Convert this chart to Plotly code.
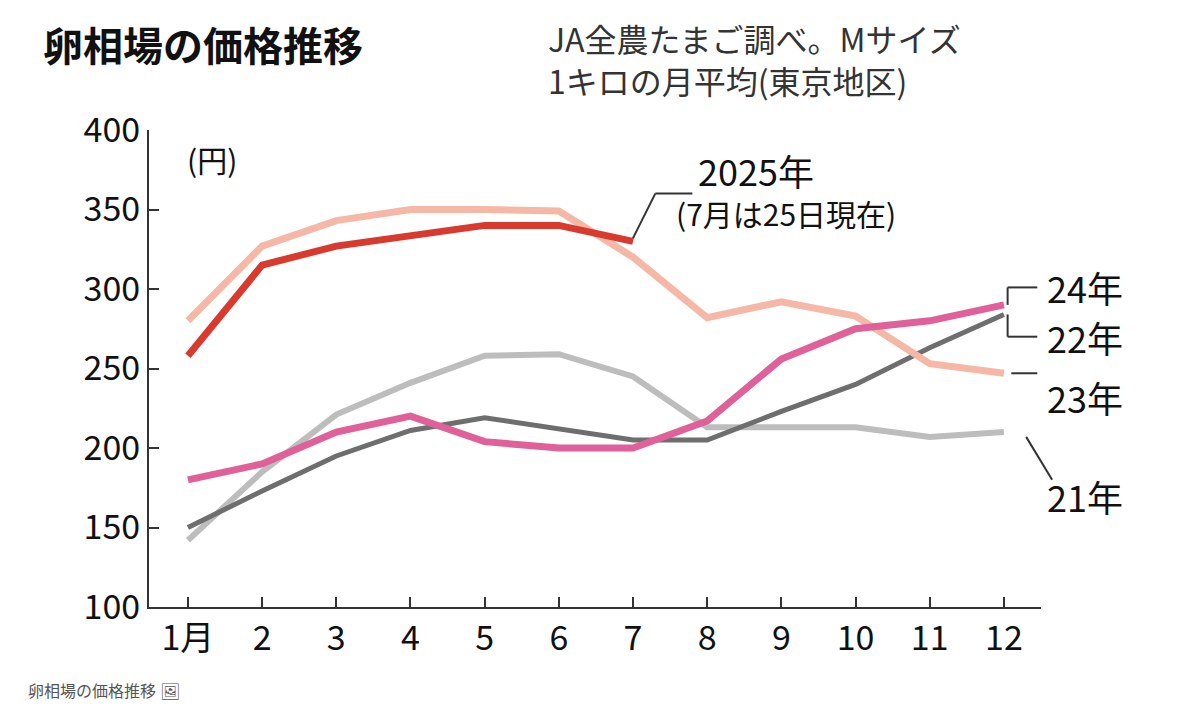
import plotly.graph_objects as go

months = list(range(1, 13))
month_labels = ["1月", "2", "3", "4", "5", "6", "7", "8", "9", "10", "11", "12"]

y2021 = [142, 185, 221, 241, 258, 259, 245, 213, 213, 213, 207, 210]
y2022 = [150, 173, 195, 211, 219, 212, 205, 205, 223, 240, 263, 284]
y2023 = [280, 327, 343, 350, 350, 349, 320, 282, 292, 283, 253, 247]
y2024 = [180, 190, 210, 220, 204, 200, 200, 217, 256, 275, 280, 290]
y2025 = [258, 315, 327, 333, 340, 340, 330]

X0, X1 = 0.475, 12.5


def px_x(m):
    # month value -> paper x
    return (m - X0) / (X1 - X0)


fig = go.Figure()
fig.add_trace(go.Scatter(x=months, y=y2021, mode="lines", line=dict(color="#bdbdbd", width=6)))
fig.add_trace(go.Scatter(x=months, y=y2022, mode="lines", line=dict(color="#6e6e6e", width=5)))
fig.add_trace(go.Scatter(x=months, y=y2023, mode="lines", line=dict(color="#f6b8a6", width=7)))
fig.add_trace(go.Scatter(x=months, y=y2024, mode="lines", line=dict(color="#e0609a", width=7)))
fig.add_trace(go.Scatter(x=months[:7], y=y2025, mode="lines", line=dict(color="#d83a2e", width=7)))

font = "Noto Sans CJK JP"
fig.update_layout(
    width=1200, height=718, showlegend=False,
    plot_bgcolor="white", paper_bgcolor="white",
    margin=dict(l=141, r=167, t=122, b=119),
    font=dict(family=font, color="#111"),
    xaxis=dict(range=[X0, X1], tickvals=months, ticktext=month_labels,
               showgrid=False, zeroline=False, showline=True, linecolor="#333", linewidth=2,
               ticks="inside", ticklen=10, tickcolor="#333", tickwidth=2,
               tickfont=dict(size=34, family=font)),
    yaxis=dict(range=[100, 400], tickvals=[100, 150, 200, 250, 300, 350, 400],
               showgrid=False, zeroline=False, showline=True, linecolor="#333", linewidth=2,
               ticks="inside", ticklen=10, tickcolor="#333", tickwidth=2,
               tickfont=dict(size=34, family=font)),
)

fig.add_annotation(xref="paper", yref="paper", x=-0.121, y=1.245, xanchor="left", yanchor="top",
                   text="<b>卵相場の価格推移</b>", showarrow=False, font=dict(size=40))
fig.add_annotation(xref="paper", yref="paper", x=0.445, y=1.245, xanchor="left", yanchor="top",
                   text="JA全農たまご調べ。Mサイズ<br>1キロの月平均(東京地区)", showarrow=False,
                   align="left", font=dict(size=32, color="#333"))
fig.add_annotation(xref="paper", yref="paper", x=0.04, y=0.99, xanchor="left", yanchor="top",
                   text="(円)", showarrow=False, font=dict(size=30))

line = dict(color="#333", width=2)
segs = [
    (7, 332, 7.3, 360), (7.3, 360, 7.8, 360),
    (12.05, 290, 12.05, 301), (12.05, 301, 12.45, 301),
    (12.05, 284, 12.05, 270), (12.05, 270, 12.45, 270),
    (12.1, 247, 12.45, 247),
    (12.3, 207, 12.65, 180),
]
for a, b, c, d in segs:
    fig.add_shape(type="line", xref="paper", yref="y", x0=px_x(a), y0=b, x1=px_x(c), y1=d, line=line)

fig.add_annotation(xref="paper", x=px_x(7.85), y=375, xanchor="left", yanchor="middle", showarrow=False,
                   text="2025年", font=dict(size=36))
fig.add_annotation(xref="paper", x=px_x(7.55), y=348, xanchor="left", yanchor="middle", showarrow=False,
                   text="(7月は25日現在)", font=dict(size=30))

for yv, txt in [(301, "24年"), (270, "22年"), (232, "23年"), (170, "21年")]:
    fig.add_annotation(xref="paper", x=px_x(12.55), y=yv, xanchor="left", yanchor="middle",
                       showarrow=False, text=txt, font=dict(size=36))

fig.add_annotation(xref="paper", yref="paper", x=-0.138, y=-0.175, xanchor="left", yanchor="middle",
                   text="卵相場の価格推移 🖼", showarrow=False, font=dict(size=16, color="#555"))

fig.write_html("out.html")
